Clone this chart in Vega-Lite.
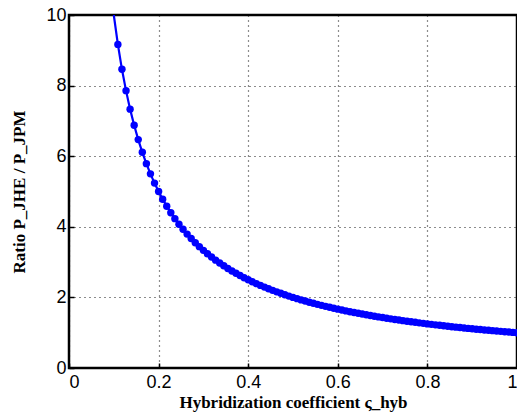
{
  "$schema": "https://vega.github.io/schema/vega-lite/v6.json",
  "width": 448,
  "height": 353,
  "autosize": {"type": "none"},
  "padding": {"left": 69, "top": 15, "right": 0, "bottom": 46},
  "background": "white",
  "config": {
    "view": {"stroke": "black", "strokeWidth": 2.5},
    "axis": {
      "domain": false,
      "grid": true,
      "gridColor": "black",
      "gridDash": [1, 4],
      "gridWidth": 1.2,
      "gridOpacity": 0.9,
      "tickColor": "black",
      "tickSize": -5,
      "tickWidth": 1.5,
      "labelFont": "Liberation Sans",
      "labelFontSize": 18,
      "labelColor": "black",
      "titleFont": "Liberation Serif",
      "titleFontSize": 17,
      "titleFontWeight": "bold",
      "titleColor": "black"
    }
  },
  "data": {"values": [
    {"x": 0.1, "y": 10},
    {"x": 0.10909, "y": 9.16667},
    {"x": 0.11818, "y": 8.46154},
    {"x": 0.12727, "y": 7.85714},
    {"x": 0.13636, "y": 7.33333},
    {"x": 0.14545, "y": 6.875},
    {"x": 0.15455, "y": 6.47059},
    {"x": 0.16364, "y": 6.11111},
    {"x": 0.17273, "y": 5.78947},
    {"x": 0.18182, "y": 5.5},
    {"x": 0.19091, "y": 5.2381},
    {"x": 0.2, "y": 5},
    {"x": 0.20909, "y": 4.78261},
    {"x": 0.21818, "y": 4.58333},
    {"x": 0.22727, "y": 4.4},
    {"x": 0.23636, "y": 4.23077},
    {"x": 0.24545, "y": 4.07407},
    {"x": 0.25455, "y": 3.92857},
    {"x": 0.26364, "y": 3.7931},
    {"x": 0.27273, "y": 3.66667},
    {"x": 0.28182, "y": 3.54839},
    {"x": 0.29091, "y": 3.4375},
    {"x": 0.3, "y": 3.33333},
    {"x": 0.30909, "y": 3.23529},
    {"x": 0.31818, "y": 3.14286},
    {"x": 0.32727, "y": 3.05556},
    {"x": 0.33636, "y": 2.97297},
    {"x": 0.34545, "y": 2.89474},
    {"x": 0.35455, "y": 2.82051},
    {"x": 0.36364, "y": 2.75},
    {"x": 0.37273, "y": 2.68293},
    {"x": 0.38182, "y": 2.61905},
    {"x": 0.39091, "y": 2.55814},
    {"x": 0.4, "y": 2.5},
    {"x": 0.40909, "y": 2.44444},
    {"x": 0.41818, "y": 2.3913},
    {"x": 0.42727, "y": 2.34043},
    {"x": 0.43636, "y": 2.29167},
    {"x": 0.44545, "y": 2.2449},
    {"x": 0.45455, "y": 2.2},
    {"x": 0.46364, "y": 2.15686},
    {"x": 0.47273, "y": 2.11538},
    {"x": 0.48182, "y": 2.07547},
    {"x": 0.49091, "y": 2.03704},
    {"x": 0.5, "y": 2},
    {"x": 0.50909, "y": 1.96429},
    {"x": 0.51818, "y": 1.92982},
    {"x": 0.52727, "y": 1.89655},
    {"x": 0.53636, "y": 1.86441},
    {"x": 0.54545, "y": 1.83333},
    {"x": 0.55455, "y": 1.80328},
    {"x": 0.56364, "y": 1.77419},
    {"x": 0.57273, "y": 1.74603},
    {"x": 0.58182, "y": 1.71875},
    {"x": 0.59091, "y": 1.69231},
    {"x": 0.6, "y": 1.66667},
    {"x": 0.60909, "y": 1.64179},
    {"x": 0.61818, "y": 1.61765},
    {"x": 0.62727, "y": 1.5942},
    {"x": 0.63636, "y": 1.57143},
    {"x": 0.64545, "y": 1.5493},
    {"x": 0.65455, "y": 1.52778},
    {"x": 0.66364, "y": 1.50685},
    {"x": 0.67273, "y": 1.48649},
    {"x": 0.68182, "y": 1.46667},
    {"x": 0.69091, "y": 1.44737},
    {"x": 0.7, "y": 1.42857},
    {"x": 0.70909, "y": 1.41026},
    {"x": 0.71818, "y": 1.39241},
    {"x": 0.72727, "y": 1.375},
    {"x": 0.73636, "y": 1.35802},
    {"x": 0.74545, "y": 1.34146},
    {"x": 0.75455, "y": 1.3253},
    {"x": 0.76364, "y": 1.30952},
    {"x": 0.77273, "y": 1.29412},
    {"x": 0.78182, "y": 1.27907},
    {"x": 0.79091, "y": 1.26437},
    {"x": 0.8, "y": 1.25},
    {"x": 0.80909, "y": 1.23596},
    {"x": 0.81818, "y": 1.22222},
    {"x": 0.82727, "y": 1.20879},
    {"x": 0.83636, "y": 1.19565},
    {"x": 0.84545, "y": 1.1828},
    {"x": 0.85455, "y": 1.17021},
    {"x": 0.86364, "y": 1.15789},
    {"x": 0.87273, "y": 1.14583},
    {"x": 0.88182, "y": 1.13402},
    {"x": 0.89091, "y": 1.12245},
    {"x": 0.9, "y": 1.11111},
    {"x": 0.90909, "y": 1.1},
    {"x": 0.91818, "y": 1.08911},
    {"x": 0.92727, "y": 1.07843},
    {"x": 0.93636, "y": 1.06796},
    {"x": 0.94545, "y": 1.05769},
    {"x": 0.95455, "y": 1.04762},
    {"x": 0.96364, "y": 1.03774},
    {"x": 0.97273, "y": 1.02804},
    {"x": 0.98182, "y": 1.01852},
    {"x": 0.99091, "y": 1.00917},
    {"x": 1, "y": 1}
  ]},
  "encoding": {
    "x": {
      "field": "x", "type": "quantitative",
      "scale": {"domain": [0, 1], "nice": false, "zero": false},
      "axis": {"values": [0, 0.2, 0.4, 0.6, 0.8, 1], "format": "~g", "labelPadding": 10, "title": "Hybridization coefficient ς_hyb", "titlePadding": 3}
    },
    "y": {
      "field": "y", "type": "quantitative",
      "scale": {"domain": [0, 10], "nice": false},
      "axis": {"values": [0, 2, 4, 6, 8, 10], "labelPadding": 8, "title": "Ratio P_JHE / P_JPM", "titlePadding": 17}
    }
  },
  "layer": [
    {"mark": {"type": "line", "color": "#0000ff", "strokeWidth": 2.2, "clip": true}},
    {
      "transform": [{"filter": "datum.x > 0.1"}],
      "mark": {"type": "point", "filled": true, "color": "#0000ff", "opacity": 1, "size": 55, "clip": true}
    }
  ]
}
